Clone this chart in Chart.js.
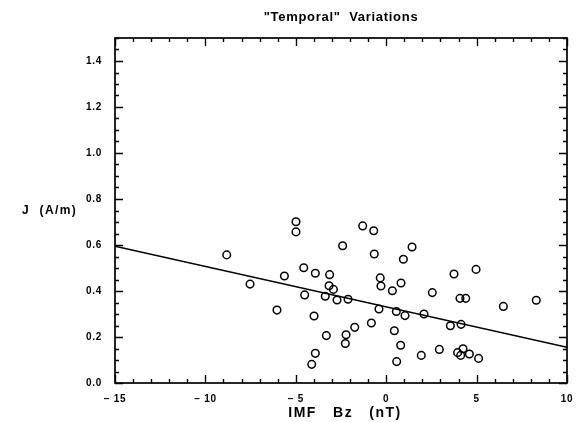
<!DOCTYPE html>
<html><head><meta charset="utf-8">
<script src="https://cdn.jsdelivr.net/npm/chart.js@4"></script>
<style>html,body{margin:0;padding:0;background:#fff}#wrap{width:581px;height:422px}</style>
</head><body><div id="wrap"><canvas id="c" width="581" height="422"></canvas></div>
<script>
const bzValues = [-8.82,-7.53,-6.04,-5.63,-4.99,-4.99,-4.56,-4.51,-3.99,-3.92,-3.92,-4.12,-3.37,-3.31,-3.13,-3.16,-2.92,-2.72,-2.41,-2.22,-2.26,-2.11,-1.74,-1.30,-0.82,-0.69,-0.66,-0.40,-0.33,-0.29,0.34,0.45,0.56,0.58,0.80,0.82,0.95,1.04,1.43,1.94,2.09,2.55,2.94,3.55,3.75,3.95,4.08,4.12,4.14,4.25,4.40,4.60,4.97,5.11,6.48,8.30];
const jValues = [0.557,0.430,0.317,0.465,0.701,0.657,0.501,0.383,0.291,0.477,0.129,0.081,0.377,0.206,0.471,0.423,0.407,0.361,0.597,0.210,0.172,0.364,0.242,0.683,0.261,0.662,0.561,0.322,0.457,0.422,0.401,0.227,0.311,0.093,0.164,0.435,0.538,0.293,0.591,0.120,0.300,0.393,0.146,0.249,0.474,0.132,0.368,0.120,0.255,0.149,0.368,0.126,0.494,0.107,0.333,0.360];
const fitBz = [-15, 10];
const fitJ = [0.595, 0.155];
const xTickValues = [-15, -10, -5, 0, 5, 10];
const yTickValues = [0, 0.2, 0.4, 0.6, 0.8, 1.0, 1.2, 1.4];
const chartTitle = '"Temporal"  Variations';
const xTitle = 'IMF   Bz   (nT)';
const yTitle = 'J  (A/m)';

const FONT = '"Liberation Sans", Arial, Helvetica, sans-serif';

const framePlugin = {
  id: 'frame',
  beforeDraw(chart) {
    chart.ctx.letterSpacing = '0.7px';
  },
  afterDraw(chart) {
    const ctx = chart.ctx, a = chart.chartArea;
    const xs = chart.scales.x, ys = chart.scales.y;
    ctx.save();
    ctx.strokeStyle = '#000';
    ctx.lineWidth = 1.7;
    ctx.strokeRect(a.left, a.top, a.right - a.left, a.bottom - a.top);
    ctx.lineWidth = 1.4;
    ctx.beginPath();
    for (let i = -15; i <= 10; i++) {
      const px = Math.round(xs.getPixelForValue(i)) + 0.5;
      const len = (i % 5 === 0) ? 8 : 4;
      ctx.moveTo(px, a.bottom); ctx.lineTo(px, a.bottom - len);
      ctx.moveTo(px, a.top); ctx.lineTo(px, a.top + len);
    }
    for (let i = 0; i <= 30; i++) {
      const py = Math.round(ys.getPixelForValue(i * 0.05)) + 0.5;
      const len = (i % 4 === 0) ? 8 : 4;
      ctx.moveTo(a.left, py); ctx.lineTo(a.left + len, py);
      ctx.moveTo(a.right, py); ctx.lineTo(a.right - len, py);
    }
    ctx.stroke();
    ctx.fillStyle = '#000';
    ctx.textAlign = 'center';
    ctx.textBaseline = 'middle';
    ctx.font = 'bold 13px ' + FONT;
    ctx.letterSpacing = '0.7px';
    ctx.fillText(chartTitle, (a.left + a.right) / 2, 17);
    ctx.font = 'bold 14px ' + FONT;
    ctx.letterSpacing = '1.5px';
    ctx.fillText(xTitle, (a.left + a.right) / 2 + 4, 413);
    ctx.font = 'bold 12px ' + FONT;
    ctx.letterSpacing = '1.4px';
    ctx.textAlign = 'left';
    ctx.fillText(yTitle, 22, 211);
    ctx.restore();
  }
};

new Chart(document.getElementById('c'), {
  type: 'scatter',
  data: {
    datasets: [
      {
        data: bzValues.map((v, i) => ({x: v, y: jValues[i]})),
        pointStyle: 'circle',
        pointRadius: 3.8,
        pointBorderWidth: 1.5,
        pointBorderColor: '#000',
        pointBackgroundColor: 'rgba(0,0,0,0)',
        showLine: false
      },
      {
        data: fitBz.map((v, i) => ({x: v, y: fitJ[i]})),
        showLine: true,
        borderColor: '#000',
        borderWidth: 1.5,
        pointRadius: 0,
        fill: false
      }
    ]
  },
  options: {
    responsive: false,
    animation: false,
    devicePixelRatio: 1,
    layout: { padding: { top: 38, right: 14, left: 0, bottom: 0 } },
    plugins: { legend: { display: false }, tooltip: { enabled: false }, title: { display: false } },
    scales: {
      x: {
        type: 'linear', min: -15, max: 10,
        grid: { display: false }, border: { display: false },
        afterBuildTicks: s => { s.ticks = xTickValues.map(v => ({value: v})); },
        afterFit: s => { s.height = 39; },
        ticks: {
          padding: 2, color: '#000',
          font: { family: FONT, weight: 'bold', size: 10 },
          callback: v => (v < 0 ? '\u2212 ' + Math.abs(v) : String(v))
        }
      },
      y: {
        type: 'linear', min: 0, max: 1.5,
        grid: { display: false }, border: { display: false },
        afterBuildTicks: s => { s.ticks = yTickValues.map(v => ({value: v})); },
        afterFit: s => { s.width = 115; },
        ticks: {
          padding: 5, color: '#000',
          font: { family: FONT, weight: 'bold', size: 10 },
          callback: v => Number(v).toFixed(1)
        }
      }
    }
  },
  plugins: [framePlugin]
});
</script>
</body></html>
